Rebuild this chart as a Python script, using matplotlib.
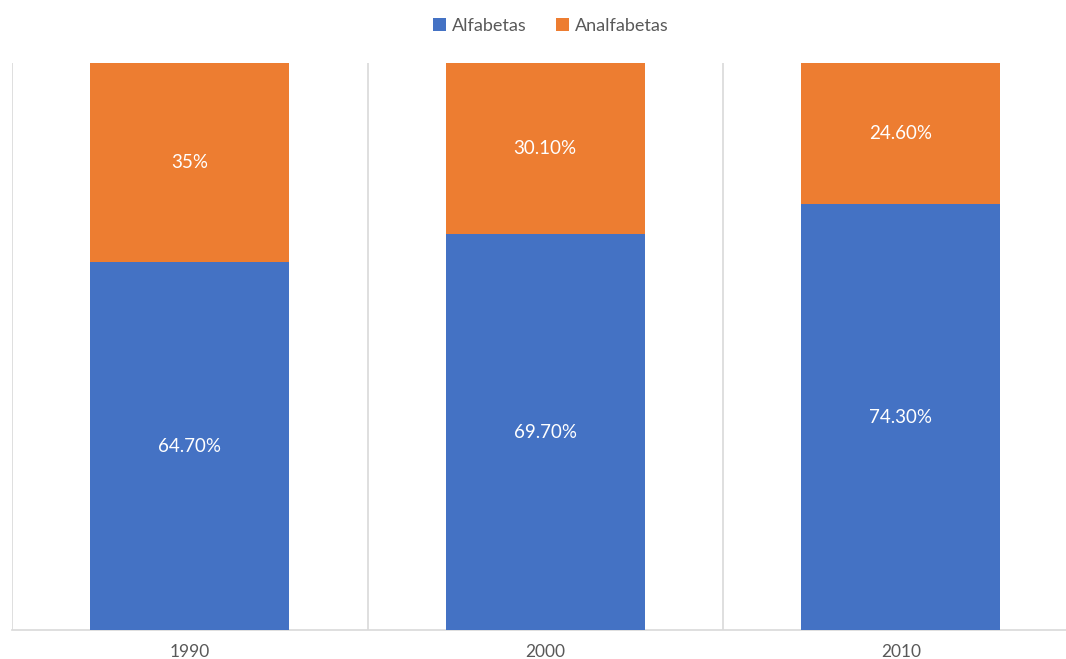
import matplotlib
matplotlib.use("Agg")
import matplotlib.pyplot as plt
import numpy as np

years = ["1990", "2000", "2010"]
alfabetas = [64.7, 69.7, 74.3]
analfabetas = [35.0, 30.1, 24.6]
series_names = ["Alfabetas", "Analfabetas"]

BLUE = "#4472C4"
ORANGE = "#ED7D31"
GRAY_TEXT = "#595959"
GRID = "#D9D9D9"

plt.rcParams["font.family"] = ["Lato", "DejaVu Sans"]


def fmt(v):
    return f"{v:.0f}%" if float(v).is_integer() else f"{v:.2f}%"


fig = plt.figure(figsize=(10.66, 6.59), dpi=100)
ax = fig.add_axes([12 / 1066, 1 - 630 / 659, 1066.5 / 1066, 567 / 659])

x = np.arange(len(years))
a = np.array(alfabetas)
b = np.array(analfabetas)
tot = a + b
a_share = a / tot * 100
b_share = b / tot * 100

width = 0.56
bars_a = ax.bar(x, a_share, width, color=BLUE, label=series_names[0], zorder=3)
bars_b = ax.bar(x, b_share, width, bottom=a_share, color=ORANGE,
                label=series_names[1], zorder=3)

for i in range(len(years)):
    ax.text(x[i], a_share[i] / 2, fmt(a[i]), ha="center", va="center",
            color="white", fontsize=13.5, zorder=4)
    ax.text(x[i], a_share[i] + b_share[i] / 2, fmt(b[i]), ha="center",
            va="center", color="white", fontsize=13.5, zorder=4)

ax.set_xlim(-0.5, len(years) - 0.5)
ax.set_ylim(0, 100)

# category separators
for sep in np.arange(-0.5, len(years), 1.0):
    ax.axvline(sep, color=GRID, lw=1.2, zorder=1)

for side in ["top", "right", "left"]:
    ax.spines[side].set_visible(False)
ax.spines["bottom"].set_color(GRID)
ax.spines["bottom"].set_linewidth(1.2)
ax.set_yticks([])
ax.set_xticks(x)
ax.set_xticklabels(years, color=GRAY_TEXT, fontsize=12.5)
ax.tick_params(axis="x", length=0, pad=10)

fig.legend(handles=[bars_a, bars_b], labels=series_names, loc="center",
           bbox_to_anchor=(0.517, 0.9605), ncol=2, frameon=False,
           fontsize=13, handlelength=0.7, handleheight=0.7,
           handletextpad=0.35, columnspacing=1.6, labelcolor=GRAY_TEXT)

fig.savefig("out.png", dpi=100)
